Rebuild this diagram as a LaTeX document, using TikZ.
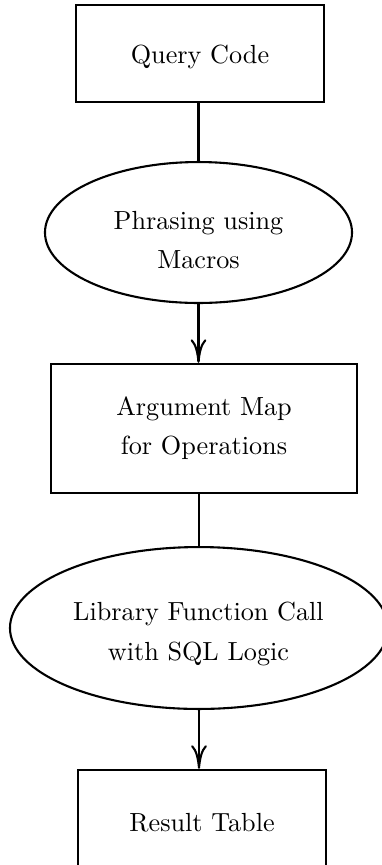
\documentclass[tikz,border=0pt]{standalone}
\usetikzlibrary{shapes.geometric,arrows.meta}
\begin{document}
\begin{tikzpicture}[x=0.3817pt,y=-0.3817pt,
  every node/.style={font=\fontsize{10}{15}\selectfont, align=center, inner sep=0pt},
  procbox/.style={draw, line width=0.9pt, rectangle},
  stepoval/.style={draw, line width=0.8pt, ellipse},
  link/.style={draw, line width=0.8pt},
  flow/.style={draw, line width=0.8pt, -{Computer Modern Rightarrow[length=9pt,width=6pt]}}]
\useasboundingbox (0,0) rectangle (382,865);
\clip (0,0) rectangle (382,865);
\node[procbox, minimum width=94.7pt, minimum height=37pt] (b1) at (200,53.5) {};
\node (b1t) at (200,57) {Query Code};
\node[stepoval, minimum width=117.2pt, minimum height=53.8pt] (e1) at (198.5,232.5) {};
\node (e1t) at (198.5,240) {Phrasing using\\Macros};
\node[procbox, minimum width=116.8pt, minimum height=49.2pt] (b2) at (204,428.5) {Argument Map\\for Operations};
\node[stepoval, minimum width=144.3pt, minimum height=61.8pt] (e2) at (199,628) {};
\node (e2t) at (198.5,634) {Library Function Call\\with SQL Logic};
\node[procbox, minimum width=94.7pt, minimum height=40.5pt] (b3) at (202,823) {Result Table};
\path[link] (e1.north |- b1.south) -- (e1.north);
\path[flow] (e1.south) -- (e1.south |- b2.north);
\path[link] (e2.north |- b2.south) -- (e2.north);
\path[flow] (e2.south) -- (e2.south |- b3.north);
\end{tikzpicture}
\end{document}
